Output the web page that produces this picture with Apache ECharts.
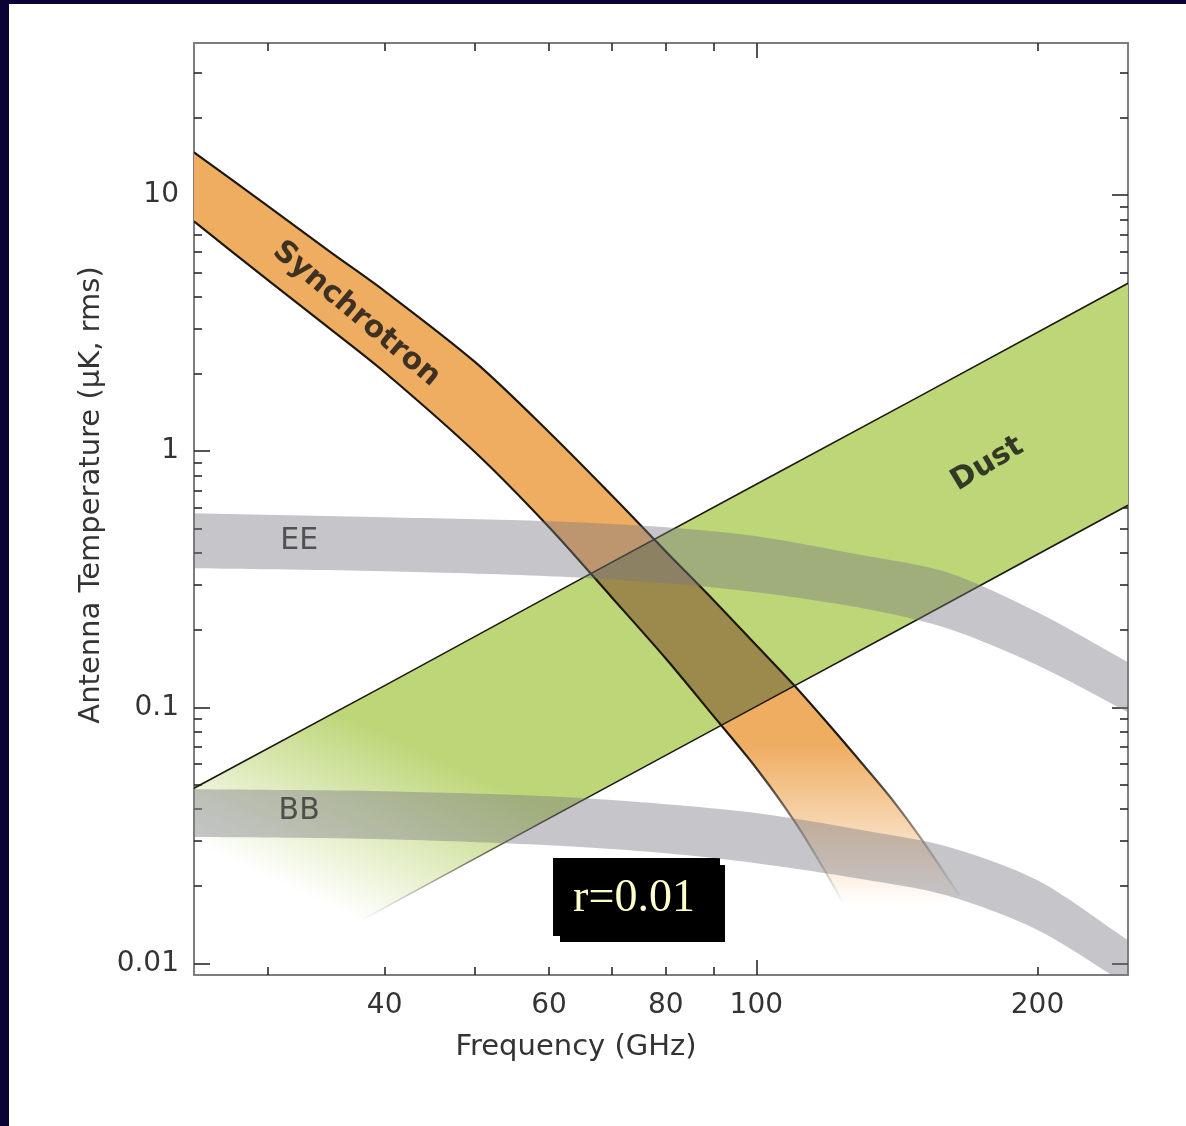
<!DOCTYPE html>
<html>
<head>
<meta charset="utf-8">
<title>Foreground spectra vs. CMB polarization</title>
<script src="https://cdn.jsdelivr.net/npm/echarts@6/dist/echarts.min.js"></script>
<style>
  html, body { margin: 0; padding: 0; width: 1186px; height: 1126px; overflow: hidden; background: #0b0335; }
  #chart { position: absolute; left: 9px; top: 4px; width: 1177px; height: 1122px; background: #ffffff; }
</style>
</head>
<body>
<div id="chart"></div>
<script>
// ---- Data: frequencies in GHz, antenna temperature in uK (rms) ----
const bandNames = ['Synchrotron', 'Dust', 'EE', 'BB'];

// Synchrotron band (upper / lower edges sampled at their own frequencies)
const synchFreqUpper = [25, 30, 35, 40, 50, 60, 70, 80, 90, 100, 110, 120, 130, 140, 150, 165];
const synchUpper     = [14.7, 9.06, 5.99, 4.22, 2.227, 1.186, 0.673, 0.406, 0.262, 0.1746, 0.1208, 0.0843, 0.0599, 0.0433, 0.0308, 0.0184];
const synchFreqLower = [25, 30, 35, 40, 50, 60, 70, 80, 90, 100, 110, 120, 130];
const synchLower     = [7.9, 4.66, 3.00, 2.035, 0.991, 0.505, 0.269, 0.155, 0.0923, 0.0578, 0.0356, 0.0211, 0.0123];

// Thermal dust band
const dustFreq  = [25, 40, 60, 100, 150, 250];
const dustUpper = [0.0483, 0.1215, 0.2716, 0.743, 1.649, 4.53];
const dustLower = [0.00655, 0.0165, 0.0368, 0.1008, 0.2237, 0.615];

// CMB polarization bands (E-mode and B-mode, r = 0.01)
const cmbFreq = [25, 40, 60, 80, 100, 130, 160, 200, 250];
const eeUpper = [0.5725, 0.5524, 0.5329, 0.5048, 0.4656, 0.3925, 0.3368, 0.2350, 0.1499];
const eeLower = [0.349, 0.3398, 0.3249, 0.305, 0.2813, 0.2436, 0.2035, 0.1459, 0.0956];
const bbUpper = [0.0478, 0.0470, 0.0449, 0.0418, 0.0386, 0.0331, 0.0286, 0.0211, 0.0123];
const bbLower = [0.0311, 0.0305, 0.0289, 0.0269, 0.0246, 0.0213, 0.0184, 0.0135, 0.0082];

// Label anchor points [GHz, uK]
const labelPoints = [[37.3, 3.43], [176.8, 0.89], [32.4, 0.445], [32.4, 0.0393]];

// Axis ticks and labels
const freqTicksMinor = [30, 40, 50, 60, 70, 80, 90, 200];
const freqTicksMajor = [100];
const freqLabels     = [40, 60, 80, 100, 200];
const tempTicksMajor = [0.01, 0.1, 1, 10];
const tempTicksMinor = [0.02, 0.03, 0.04, 0.05, 0.06, 0.07, 0.08, 0.09,
                        0.2, 0.3, 0.4, 0.5, 0.6, 0.7, 0.8, 0.9,
                        2, 3, 4, 5, 6, 7, 8, 9, 20, 30];
const tempLabels     = [0.01, 0.1, 1, 10];

const freqRange = [25, 250];
const tempRange = [0.009, 39.3];

// ---- Styling ----
const FONT = 'DejaVu Sans';
const ORANGE = [239, 173, 98];
const GREEN = [189, 214, 120];
const OVERLAP = [156, 137, 76];
const GREY = [118, 118, 128];
const GREY_ALPHA = 0.42;
const EDGE = [28, 24, 16];
const rgba = (c, a) => `rgba(${c[0]},${c[1]},${c[2]},${a})`;
const LG = echarts.graphic.LinearGradient;

// Fading gradients anchored at data points
const dustFadeFrom = [34.0, 0.1046], dustFadeTo = [28.2, 0.0239];
const synchFadeFrom = [100, 0.0711], synchFadeTo = [100, 0.0169];

function fade(api, from, to, color, a0, a1) {
  const p0 = api.coord(from), p1 = api.coord(to);
  return new LG(p0[0], p0[1], p1[0], p1[1], [
    { offset: 0, color: rgba(color, a0) },
    { offset: 1, color: rgba(color, a1) }
  ], true);
}

// Repeat the end points so that smoothing keeps the band ends square
const dupEnds = pts => [pts[0]].concat(pts, [pts[pts.length - 1]]);

function edgesOf(api, fU, up, fL, lo) {
  return {
    top: fU.map((f, i) => api.coord([f, up[i]])),
    bot: fL.map((f, i) => api.coord([f, lo[i]]))
  };
}
function outline(e) {
  return dupEnds(e.top).concat(dupEnds(e.bot.slice().reverse()));
}
function gridClip(params) {
  const cs = params.coordSys;
  return { type: 'rect', shape: { x: cs.x, y: cs.y, width: cs.width, height: cs.height } };
}

function customSeries(name, z, draw) {
  return {
    type: 'custom', name: name, coordinateSystem: 'cartesian2d',
    xAxisIndex: 0, yAxisIndex: 0, silent: true, clip: true, z: z,
    data: [[freqRange[0], tempRange[0]]],
    renderItem: function (params, api) {
      return { type: 'group', clipPath: gridClip(params), children: draw(api) };
    }
  };
}

const SMOOTH = 0.3;

const series = [
  // Dust fill
  customSeries(bandNames[1], 1, api => {
    const d = edgesOf(api, dustFreq, dustUpper, dustFreq, dustLower);
    return [{ type: 'polygon', shape: { points: outline(d) },
              style: { fill: fade(api, dustFadeFrom, dustFadeTo, GREEN, 1, 0) } }];
  }),
  // Synchrotron fill, plus the region it shares with dust
  customSeries(bandNames[0], 2, api => {
    const s = edgesOf(api, synchFreqUpper, synchUpper, synchFreqLower, synchLower);
    const d = edgesOf(api, dustFreq, dustUpper, dustFreq, dustLower);
    const shape = { points: outline(s), smooth: SMOOTH };
    return [
      { type: 'polygon', shape: shape, style: { fill: fade(api, synchFadeFrom, synchFadeTo, ORANGE, 1, 0) } },
      { type: 'group', clipPath: { type: 'polygon', shape: { points: outline(d) } },
        children: [{ type: 'polygon', shape: shape, style: { fill: rgba(OVERLAP, 1) } }] }
    ];
  }),
  // Band outlines
  customSeries('edges', 3, api => {
    const s = edgesOf(api, synchFreqUpper, synchUpper, synchFreqLower, synchLower);
    const d = edgesOf(api, dustFreq, dustUpper, dustFreq, dustLower);
    const synchStroke = fade(api, synchFadeFrom, synchFadeTo, EDGE, 1, 0);
    return [
      { type: 'polyline', shape: { points: dupEnds(s.top), smooth: SMOOTH },
        style: { fill: 'none', stroke: synchStroke, lineWidth: 2.2 } },
      { type: 'polyline', shape: { points: dupEnds(s.bot), smooth: SMOOTH },
        style: { fill: 'none', stroke: synchStroke, lineWidth: 2.2 } },
      { type: 'polyline', shape: { points: d.top },
        style: { fill: 'none', stroke: rgba(EDGE, 1), lineWidth: 1.6 } },
      { type: 'polyline', shape: { points: d.bot },
        style: { fill: 'none', stroke: fade(api, dustFadeFrom, dustFadeTo, EDGE, 1, 0), lineWidth: 1.6 } }
    ];
  }),
  // CMB E-mode and B-mode bands
  customSeries(bandNames[2], 4, api => {
    const e = edgesOf(api, cmbFreq, eeUpper, cmbFreq, eeLower);
    return [{ type: 'polygon', shape: { points: outline(e), smooth: SMOOTH },
              style: { fill: rgba(GREY, GREY_ALPHA) } }];
  }),
  customSeries(bandNames[3], 4, api => {
    const b = edgesOf(api, cmbFreq, bbUpper, cmbFreq, bbLower);
    return [{ type: 'polygon', shape: { points: outline(b), smooth: SMOOTH },
              style: { fill: rgba(GREY, GREY_ALPHA) } }];
  })
];

// Text labels placed in data space
const labelStyles = [
  { rotate: -40, fontSize: 30, fontWeight: 'bold', color: '#111' },
  { rotate: 31, fontSize: 30, fontWeight: 'bold', color: '#111' },
  { rotate: 0, fontSize: 30, fontWeight: 'normal', color: '#333' },
  { rotate: 0, fontSize: 30, fontWeight: 'normal', color: '#333' }
];
labelPoints.forEach((p, i) => {
  series.push({
    type: 'scatter', silent: true, z: 6, symbolSize: 1,
    itemStyle: { color: 'rgba(0,0,0,0)' },
    data: [{ name: bandNames[i], value: p }],
    label: Object.assign({ show: true, position: 'inside', formatter: bandNames[i], fontFamily: FONT }, labelStyles[i])
  });
});

const AXIS_LINE = { show: true, lineStyle: { color: '#7d7d7d', width: 2 } };
const TICK_STYLE = { color: '#2a2a2a', width: 1.6 };

function makeAxis(kind, pos, ticks, len, labels, showLine) {
  const range = kind === 'x' ? freqRange : tempRange;
  return {
    type: 'log', position: pos, min: range[0], max: range[1],
    axisLine: showLine ? AXIS_LINE : { show: false },
    axisTick: { show: true, inside: true, length: len, customValues: ticks, lineStyle: TICK_STYLE },
    axisLabel: labels ? {
      show: true, customValues: labels, formatter: v => String(v),
      fontFamily: FONT, fontSize: 28, color: '#333', margin: kind === 'x' ? 17 : 15
    } : { show: false },
    splitLine: { show: false },
    minorTick: { show: false }
  };
}

const xAxes = [
  makeAxis('x', 'bottom', freqTicksMinor, 8, freqLabels, true),
  makeAxis('x', 'bottom', freqTicksMajor, 15, null, false),
  makeAxis('x', 'top', freqTicksMinor, 8, null, true),
  makeAxis('x', 'top', freqTicksMajor, 15, null, false)
];
Object.assign(xAxes[0], {
  name: 'Frequency (GHz)', nameLocation: 'middle', nameGap: 58,
  nameTextStyle: { fontFamily: FONT, fontSize: 29, color: '#333', padding: [0, 170, 0, 0] }
});

const yAxes = [
  makeAxis('y', 'left', tempTicksMinor, 8, tempLabels, true),
  makeAxis('y', 'left', tempTicksMajor, 16, null, false),
  makeAxis('y', 'right', tempTicksMinor, 8, null, true),
  makeAxis('y', 'right', tempTicksMajor, 16, null, false)
];
Object.assign(yAxes[0], {
  name: 'Antenna Temperature (\u03bcK, rms)', nameLocation: 'middle', nameGap: 86,
  nameTextStyle: { fontFamily: FONT, fontSize: 29, color: '#333', padding: [0, 0, 0, 28] }
});

const chart = echarts.init(document.getElementById('chart'), null, { renderer: 'canvas' });
chart.setOption({
  animation: false,
  backgroundColor: '#ffffff',
  grid: { left: 185, top: 39, right: 58, bottom: 151, containLabel: false },
  xAxis: xAxes,
  yAxis: yAxes,
  series: series,
  graphic: [{
    type: 'group', silent: true, z: 100,
    children: [
      { type: 'rect', shape: { x: 551, y: 861, width: 165, height: 77 }, style: { fill: '#000' } },
      { type: 'rect', shape: { x: 544, y: 854, width: 167, height: 78 }, style: { fill: '#000' } },
      { type: 'text', x: 625, y: 895,
        style: { text: 'r=0.01', fontFamily: 'Liberation Serif', fontSize: 46, fill: '#ffffcc',
                 align: 'center', verticalAlign: 'middle' } }
    ]
  }]
});
</script>
</body>
</html>
